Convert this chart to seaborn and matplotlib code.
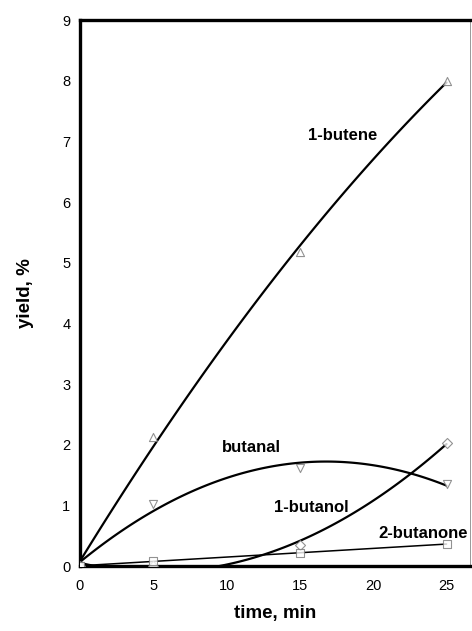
import numpy as np
import pandas as pd
import matplotlib
matplotlib.use("Agg")
import matplotlib.pyplot as plt
import seaborn as sns

time = [0, 5, 15, 25]
butene = [0.0, 2.12, 5.18, 8.0]
butanal = [0.0, 1.03, 1.62, 1.35]
butanol = [0.0, 0.0, 0.35, 2.03]
butanone = [0.0, 0.08, 0.22, 0.36]

sns.set_style("white")
plt.rcParams['font.family'] = ['Liberation Sans', 'DejaVu Sans']
plt.rcParams['text.color'] = 'black'
plt.rcParams['axes.labelcolor'] = 'black'
plt.rcParams['xtick.color'] = 'black'
plt.rcParams['ytick.color'] = 'black'

fig = plt.figure(figsize=(4.72, 6.31), dpi=100)
ax = fig.add_axes([80/472, 1-566/631, 390/472, 546/631])

series = [
    (butene, "^", 2, 1.6),
    (butanal, "v", 2, 1.6),
    (butanol, "D", 2, 1.6),
    (butanone, "s", 1, 1.1),
]
for vals, mk, order, lw in series:
    df = pd.DataFrame({"t": time, "y": vals})
    sns.regplot(data=df, x="t", y="y", order=order, ci=None, ax=ax,
                truncate=True, marker=mk,
                scatter_kws=dict(s=34 if mk != "D" else 26,
                                 facecolors="white", edgecolors="#777777",
                                 linewidths=0.8, zorder=3),
                line_kws=dict(color="black", lw=lw, zorder=2))

ax.set_xlim(0, 26.6)
ax.set_ylim(0, 9)
ax.set_xticks([0, 5, 10, 15, 20, 25])
ax.set_yticks(range(0, 10))
ax.tick_params(axis="both", labelsize=10.5, direction="out", length=3,
               width=0.8, pad=4)
ax.tick_params(axis="x", pad=6)
for side in ["left", "bottom", "top"]:
    ax.spines[side].set_linewidth(2.4)
    ax.spines[side].set_color("black")
ax.spines["right"].set_linewidth(0.6)
ax.spines["right"].set_color("#888888")

ax.set_xlabel("time, min", fontsize=13.5, fontweight="bold", labelpad=9)
ax.set_ylabel("yield, %", fontsize=13.5, fontweight="bold", labelpad=20)

kw = dict(fontsize=12, fontweight="bold", ha="center", va="center", color="black")
ax.text(17.9, 7.1, "1-butene", **kw)
ax.text(11.7, 1.96, "butanal", **kw)
ax.text(15.8, 0.97, "1-butanol", **kw)
ax.text(23.4, 0.54, "2-butanone", **kw)

fig.savefig("out.png", dpi=100)
